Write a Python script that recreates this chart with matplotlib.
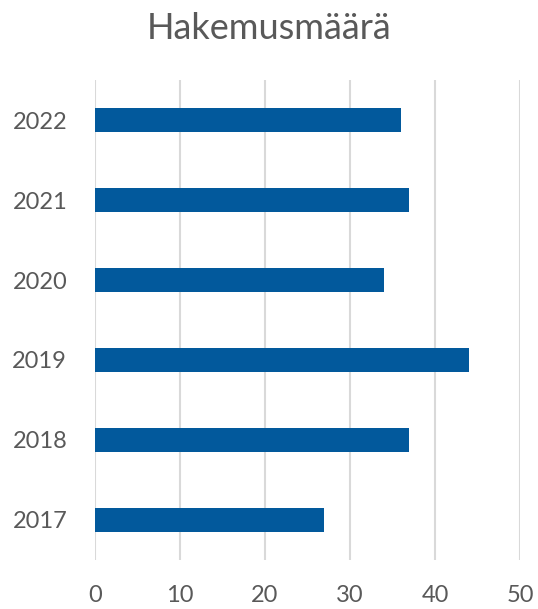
import matplotlib.pyplot as plt

# Hakemusmäärä vuosittain
vuodet = ['2017', '2018', '2019', '2020', '2021', '2022']
hakemukset = [27, 37, 44, 34, 37, 36]
x_ticks = [0, 10, 20, 30, 40, 50]

plt.rcParams['font.family'] = ['Lato', 'DejaVu Sans']
harmaa = '#595959'

fig = plt.figure(figsize=(5.38, 6.09), dpi=100)
ax = fig.add_axes([0.1766, 0.0805, 0.7899, 0.7881])

ax.barh(vuodet, hakemukset, height=0.31, color='#02599C', zorder=3)

ax.set_xlim(0, 50)
ax.set_ylim(-0.5, len(vuodet) - 0.5)
ax.set_xticks(x_ticks)
ax.grid(axis='x', color='#D9D9D9', linewidth=1.5, zorder=0)
ax.grid(axis='y', visible=False)
for s in ax.spines.values():
    s.set_visible(False)

ax.tick_params(axis='both', length=0, labelsize=17, labelcolor=harmaa)
ax.tick_params(axis='x', pad=18)
ax.tick_params(axis='y', pad=20)

fig.text(0.5, 0.953, 'Hakemusmäärä', ha='center', va='center',
         fontsize=26, color=harmaa)

fig.savefig('out.png', dpi=100)
